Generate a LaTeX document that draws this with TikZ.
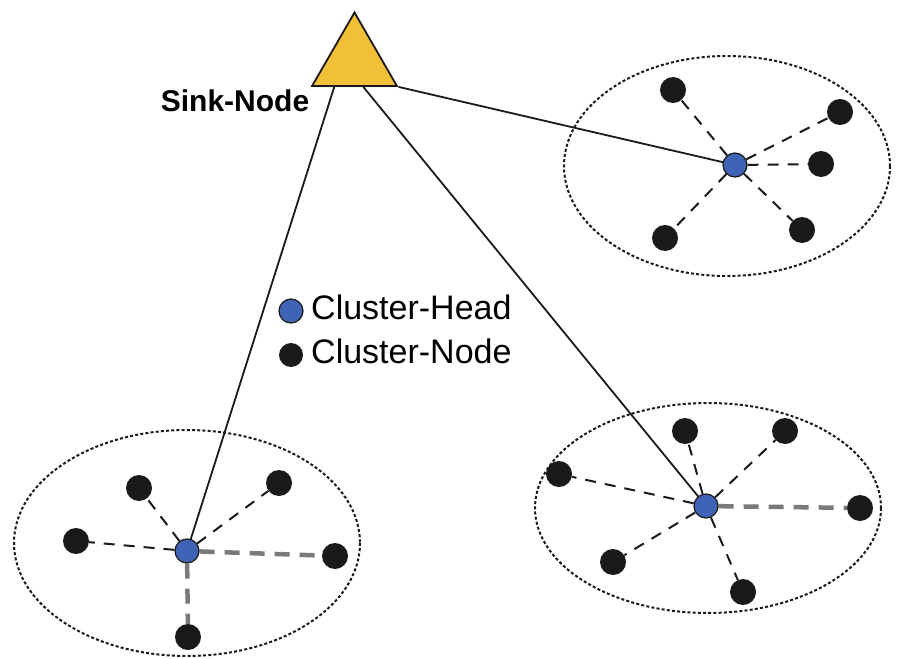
\documentclass[tikz,border=0pt]{standalone}
\usepackage{fontspec}
\setmainfont{Liberation Sans}
\usetikzlibrary{shapes.geometric,calc}
\definecolor{sinkgold}{HTML}{F2C037}
\definecolor{headblue}{HTML}{3F63B5}
\definecolor{nodeblack}{HTML}{1A1A1A}
\definecolor{linkgrey}{HTML}{7A7A7A}
\pgfdeclarelayer{bg}
\pgfsetlayers{bg,main}
\tikzset{
  member/.style={circle,fill=nodeblack,inner sep=0pt,minimum size=26bp},
  head/.style={circle,fill=headblue,draw=nodeblack,line width=1.2bp,inner sep=0pt,minimum size=24bp},
  region/.style={draw=nodeblack,line width=2bp,dash pattern=on 3bp off 2.2bp},
  thinlink/.style={draw=nodeblack,line width=2bp,dash pattern=on 11bp off 9bp},
  thicklink/.style={draw=linkgrey,line width=4.5bp,dash pattern=on 15bp off 10bp},
  uplink/.style={draw=nodeblack,line width=1.8bp},
  sinkstyle/.style={regular polygon,regular polygon sides=3,fill=sinkgold,draw=nodeblack,line width=1.8bp,minimum size=98bp,inner sep=0pt},
  lbl/.style={inner sep=0pt,font=\fontsize{34bp}{37bp}\selectfont},
}
\begin{document}
\begin{tikzpicture}[x=1bp,y=-1bp]
\useasboundingbox (0,0) rectangle (904,659);
% regions
\draw[region] (727,166) ellipse [x radius=163, y radius=110];
\draw[region] (187,543) ellipse [x radius=173, y radius=113];
\draw[region] (708,508) ellipse [x radius=173, y radius=105];
% sink
\node[sinkstyle] (sink) at (354.5,61.5) {};
\coordinate (sl) at ($(sink.corner 2)!0.27!(sink.corner 3)$);
\coordinate (sm) at ($(sink.corner 2)!0.6!(sink.corner 3)$);
\coordinate (sr) at (sink.corner 3);
\node[lbl,font=\fontsize{30bp}{33bp}\selectfont\bfseries,anchor=base] (sinklbl) at (235,112) {Sink-Node};
% cluster A (top right)
\node[head] (ha) at (735,165) {};
\node[member] (a1) at (673,90) {};
\node[member] (a2) at (840,112) {};
\node[member] (a3) at (821,164) {};
\node[member] (a4) at (802,230) {};
\node[member] (a5) at (665,238) {};
% cluster B (bottom left)
\node[head] (hb) at (187,551) {};
\node[member] (b1) at (139,488) {};
\node[member] (b2) at (76,541) {};
\node[member] (b3) at (279,483) {};
\node[member] (b4) at (335,556) {};
\node[member] (b5) at (188,637) {};
% cluster C (bottom right)
\node[head] (hc) at (706,506) {};
\node[member] (c1) at (685,431) {};
\node[member] (c2) at (785,431) {};
\node[member] (c3) at (559,474) {};
\node[member] (c4) at (860,508) {};
\node[member] (c5) at (613,562) {};
\node[member] (c6) at (743,592) {};
% legend
\node[head,minimum size=24bp] (lh) at (291,311) {};
\node[member,minimum size=24bp] (ln) at (291,355) {};
\node[lbl,anchor=base west] (lht) at (311,319) {Cluster-Head};
\node[lbl,anchor=base west] (lnt) at (311,363) {Cluster-Node};
% links
\begin{pgfonlayer}{bg}
\draw[uplink] (sr) -- (ha.center);
\draw[uplink] (sl) -- (hb.center);
\draw[uplink] (sm) -- (hc.center);
\foreach \m in {a1,a2,a3,a4,a5} \draw[thinlink] (ha) -- (\m);
\foreach \m in {b1,b2,b3} \draw[thinlink] (hb) -- (\m);
\foreach \m in {b4,b5} \draw[thicklink] (hb) -- (\m);
\foreach \m in {c1,c2,c3,c5,c6} \draw[thinlink] (hc) -- (\m);
\draw[thicklink] (hc) -- (c4);
\end{pgfonlayer}
\end{tikzpicture}
\end{document}
